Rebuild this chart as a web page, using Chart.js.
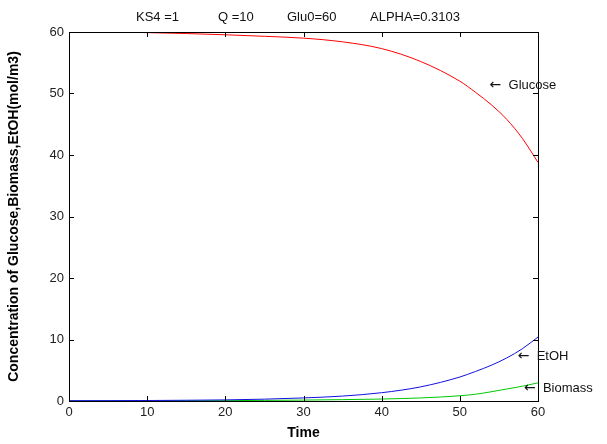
<!DOCTYPE html>
<html>
<head>
<meta charset="utf-8">
<script src="https://cdn.jsdelivr.net/npm/chart.js@4/dist/chart.umd.min.js"></script>
<style>
  html, body { margin: 0; padding: 0; background: #fff; }
</style>
</head>
<body>
<canvas id="chart" width="607" height="444"></canvas>
<script>
const times = [0, 5, 10, 15, 20, 25, 30, 35, 40, 45, 50, 52, 54, 56, 58, 60];
const glucose = [60, 60, 59.9, 59.75, 59.55, 59.3, 59.0, 58.4, 57.3, 55.2, 52.0, 50.2, 48.2, 45.8, 42.7, 38.8];
const etoh = [0.05, 0.06, 0.08, 0.12, 0.18, 0.3, 0.5, 0.8, 1.35, 2.3, 3.9, 4.8, 5.8, 7.0, 8.5, 10.4];
const biomass = [0.02, 0.02, 0.03, 0.04, 0.06, 0.1, 0.15, 0.22, 0.32, 0.5, 0.85, 1.1, 1.5, 1.95, 2.4, 2.95];
const xTicks = [0, 10, 20, 30, 40, 50, 60];
const yTicks = [0, 10, 20, 30, 40, 50, 60];
const titleParts = ['KS4 =1', 'Q =10', 'Glu0=60', 'ALPHA=0.3103'];
const curveLabels = [
    { text: 'Glucose', t: 53.8, v: 51.3 },
    { text: 'EtOH', t: 57.4, v: 7.2 },
    { text: 'Biomass', t: 58.2, v: 2.1 }
];

const pts = (arr) => times.map((t, i) => ({ x: t, y: arr[i] }));

const matlabBox = {
    id: 'matlabBox',
    afterDraw(chart) {
        const { ctx, chartArea: a, scales } = chart;
        const x = scales.x, y = scales.y;
        ctx.save();
        ctx.strokeStyle = '#000';
        ctx.lineWidth = 1;
        ctx.strokeRect(a.left + 0.5, a.top + 0.5, a.right - a.left, a.bottom - a.top);
        ctx.beginPath();
        xTicks.forEach((v) => {
            const px = Math.round(x.getPixelForValue(v)) + 0.5;
            ctx.moveTo(px, a.bottom); ctx.lineTo(px, a.bottom - 5);
            ctx.moveTo(px, a.top); ctx.lineTo(px, a.top + 5);
        });
        yTicks.forEach((v) => {
            const py = Math.round(y.getPixelForValue(v)) + 0.5;
            ctx.moveTo(a.left, py); ctx.lineTo(a.left + 5, py);
            ctx.moveTo(a.right, py); ctx.lineTo(a.right - 5, py);
        });
        ctx.stroke();

        // title
        ctx.fillStyle = '#111';
        ctx.font = '13px "Liberation Sans", Arial, sans-serif';
        ctx.textBaseline = 'middle';
        ctx.textAlign = 'left';
        const tx = [136, 218, 287, 370];
        titleParts.forEach((s, i) => ctx.fillText(s, tx[i], 17));

        // curve labels: arrow + name
        curveLabels.forEach((l) => {
            const px = x.getPixelForValue(l.t), py = y.getPixelForValue(l.v);
            ctx.font = '14px "DejaVu Sans", sans-serif';
            ctx.fillText('\u2190', px, py);
            ctx.font = '13px "Liberation Sans", Arial, sans-serif';
            ctx.fillText(l.text, px + 19, py);
        });
        ctx.restore();
    }
};

new Chart(document.getElementById('chart'), {
    type: 'line',
    data: {
        datasets: [
            { label: 'Glucose', data: pts(glucose), borderColor: '#ff0000' },
            { label: 'EtOH', data: pts(etoh), borderColor: '#1010e0' },
            { label: 'Biomass', data: pts(biomass), borderColor: '#00c800' }
        ]
    },
    options: {
        responsive: false,
        animation: false,
        devicePixelRatio: 1,
        layout: { padding: { left: 0, right: 69, top: 32, bottom: 0 } },
        elements: {
            point: { radius: 0 },
            line: { borderWidth: 1, cubicInterpolationMode: 'monotone', fill: false }
        },
        plugins: { legend: { display: false }, tooltip: { enabled: false } },
        scales: {
            x: {
                type: 'linear', min: 0, max: 60,
                afterBuildTicks: (s) => { s.ticks = xTicks.map((v) => ({ value: v })); },
                afterFit: (s) => { s.height = 43; },
                grid: { display: false, drawTicks: false },
                border: { display: false },
                ticks: { color: '#222', font: { size: 13, family: '"Liberation Sans", Arial' }, padding: 4, maxRotation: 0 },
                title: { display: true, text: 'Time', color: '#000', font: { size: 14, weight: 'bold', family: '"Liberation Sans", Arial' }, padding: { top: 0, bottom: 2 } }
            },
            y: {
                type: 'linear', min: 0, max: 60,
                afterBuildTicks: (s) => { s.ticks = yTicks.map((v) => ({ value: v })); },
                afterFit: (s) => { s.width = 69; },
                grid: { display: false, drawTicks: false },
                border: { display: false },
                ticks: { color: '#222', font: { size: 13, family: '"Liberation Sans", Arial' }, padding: 5 },
                title: { display: true, text: 'Concentration of Glucose,Biomass,EtOH(mol/m3)', color: '#000', font: { size: 14, weight: 'bold', family: '"Liberation Sans", Arial' }, padding: { top: 6, bottom: 0 } }
            }
        }
    },
    plugins: [matlabBox]
});
</script>
</body>
</html>
